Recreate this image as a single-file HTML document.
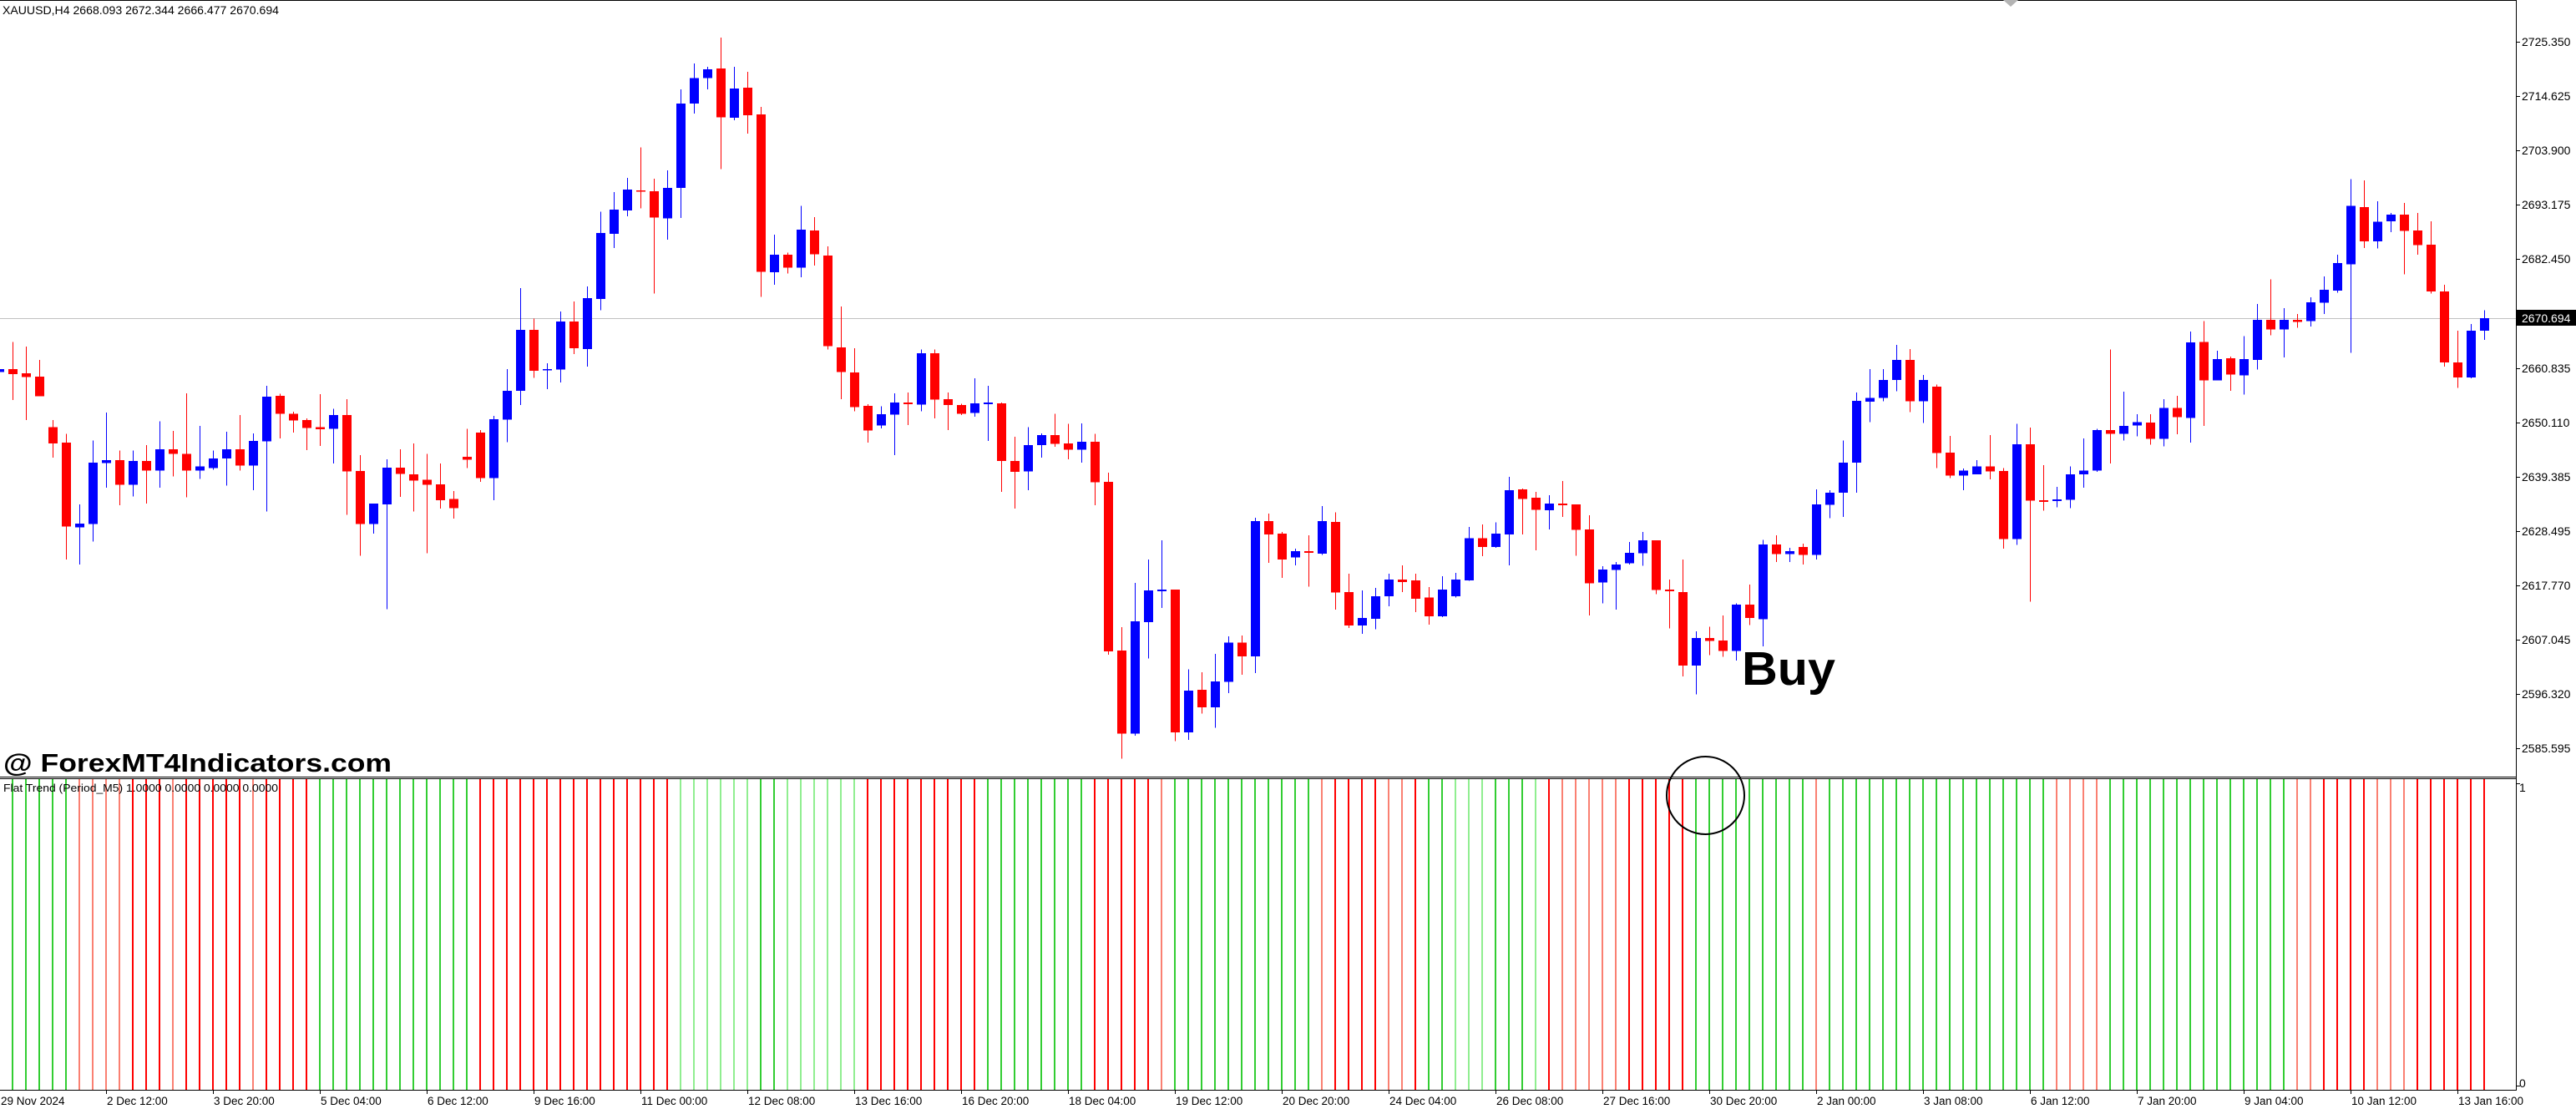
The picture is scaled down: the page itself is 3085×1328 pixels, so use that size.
<!DOCTYPE html>
<html><head><meta charset="utf-8"><style>html,body{margin:0;padding:0;background:#fff;width:3085px;height:1328px;overflow:hidden}svg{display:block}</style></head><body>
<svg width="3085" height="1328" viewBox="0 0 3085 1328" xmlns="http://www.w3.org/2000/svg" font-family="'Liberation Sans', sans-serif">
<rect x="0" y="0" width="3085" height="1328" fill="#fff"/>
<!-- bid line -->
<rect x="0" y="381" width="3014" height="1" fill="#c0c0c0"/>
<!-- candles (y in scaled units) -->
<g transform="scale(1,0.59312)" shape-rendering="crispEdges">
<path fill="none" stroke="#0000ff" stroke-width="1" d="M-0.5 740V755M95.5 1018V1140M111.5 889V1093M127.5 833V985M159.5 910V1002M191.5 851V985M239.5 860V967M255.5 910V948M271.5 872V980M303.5 875V990M319.5 779V1033M399.5 825V936M447.5 1017V1077M463.5 927V1230M591.5 840V1010M607.5 745V893M623.5 582V818M655.5 733V786M671.5 629V772M703.5 578V740M719.5 427V626M735.5 388V501M751.5 359V437M799.5 344V484M815.5 180V440M831.5 128V229M847.5 135V180M879.5 135V243M927.5 474V575M959.5 416V560M1055.5 820V865M1071.5 794V919M1103.5 706V830M1167.5 764V841M1183.5 779V890M1231.5 862V990M1247.5 875V924M1295.5 855V934M1359.5 1177V1485M1375.5 1130V1329M1391.5 1091V1227M1423.5 1351V1494M1455.5 1320V1469M1471.5 1285V1399M1503.5 1045V1359M1551.5 1108V1141M1583.5 1022V1120M1631.5 1192V1280M1647.5 1187V1270M1663.5 1158V1224M1727.5 1163V1246M1743.5 1157V1206M1759.5 1064V1173M1791.5 1055V1106M1807.5 963V1141M1855.5 1000V1069M1919.5 1143V1218M1935.5 1135V1231M1951.5 1094V1140M1967.5 1074V1142M2031.5 1275V1402M2079.5 1218V1334M2111.5 1090V1305M2143.5 1106V1135M2175.5 988V1130M2191.5 990V1046M2207.5 889V1044M2223.5 792V995M2239.5 745V852M2255.5 745V810M2271.5 696V790M2303.5 757V854M2351.5 946V990M2367.5 929V958M2415.5 856V1100M2463.5 983V1024M2479.5 942V1026M2495.5 885V985M2511.5 866V953M2543.5 791V889M2559.5 836V881M2591.5 806V901M2623.5 669V894M2655.5 708V768M2687.5 679V797M2703.5 614V746M2735.5 622V722M2767.5 600V659M2783.5 558V634M2799.5 514V591M2815.5 362V712M2847.5 406V502M2863.5 430V469M2959.5 654V764M2975.5 626V686"/>
<path fill="none" stroke="#ff0000" stroke-width="1" d="M15.5 690V808M31.5 700V848M47.5 727V800M63.5 848V924M79.5 876V1130M143.5 910V1020M175.5 899V1017M207.5 870V962M223.5 794V1004M287.5 838V950M335.5 795V885M351.5 831V873M367.5 845V909M383.5 796V900M415.5 806V1039M431.5 919V1122M479.5 907V1003M495.5 895V1033M511.5 916V1117M527.5 936V1027M543.5 991V1047M559.5 866V945M575.5 868V973M639.5 643V763M687.5 609V715M767.5 298V421M783.5 361V593M863.5 76V341M895.5 145V270M911.5 216V599M943.5 510V552M975.5 438V536M991.5 497V706M1007.5 619V806M1023.5 703V830M1039.5 816V894M1087.5 792V858M1119.5 706V845M1135.5 792V868M1151.5 815V838M1199.5 813V993M1215.5 882V1027M1263.5 835V902M1279.5 856V927M1311.5 876V1020M1327.5 954V1322M1343.5 1266V1532M1407.5 1190V1496M1439.5 1357V1441M1487.5 1283V1362M1519.5 1037V1136M1535.5 1074V1167M1567.5 1081V1184M1599.5 1034V1231M1615.5 1158V1268M1679.5 1141V1195M1695.5 1158V1236M1711.5 1185V1261M1775.5 1059V1123M1823.5 986V1079M1839.5 993V1111M1871.5 971V1044M1887.5 1018V1122M1903.5 1040V1243M1983.5 1091V1200M1999.5 1170V1269M2015.5 1130V1366M2047.5 1265V1323M2063.5 1243V1326M2095.5 1180V1262M2127.5 1081V1135M2159.5 1098V1140M2287.5 705V832M2319.5 776V945M2335.5 880V965M2383.5 878V968M2399.5 945V1108M2431.5 863V1215M2447.5 939V1031M2527.5 706V936M2575.5 836V898M2607.5 799V877M2639.5 648V860M2671.5 720V789M2719.5 564V677M2751.5 634V662M2831.5 364V501M2879.5 410V554M2895.5 430V514M2911.5 447V593M2927.5 575V740M2943.5 668V783"/>
<path fill="#0000ff" d="M-6 745h11V751h-11zM90 1057h11V1065h-11zM106 934h11V1058h-11zM122 929h11V935h-11zM154 931h11V979h-11zM186 907h11V950h-11zM234 942h11V950h-11zM250 926h11V945h-11zM266 907h11V926h-11zM298 890h11V940h-11zM314 801h11V891h-11zM394 838h11V866h-11zM442 1017h11V1058h-11zM458 944h11V1018h-11zM586 846h11V965h-11zM602 789h11V847h-11zM618 666h11V789h-11zM650 745h11V748h-11zM666 649h11V746h-11zM698 602h11V705h-11zM714 470h11V604h-11zM730 423h11V472h-11zM746 383h11V425h-11zM794 379h11V441h-11zM810 209h11V379h-11zM826 158h11V209h-11zM842 140h11V158h-11zM874 179h11V238h-11zM922 514h11V550h-11zM954 464h11V540h-11zM1050 836h11V859h-11zM1066 813h11V837h-11zM1098 713h11V817h-11zM1162 814h11V834h-11zM1178 813h11V816h-11zM1226 899h11V952h-11zM1242 878h11V899h-11zM1290 892h11V908h-11zM1354 1254h11V1481h-11zM1370 1192h11V1256h-11zM1386 1190h11V1194h-11zM1418 1394h11V1479h-11zM1450 1376h11V1428h-11zM1466 1297h11V1377h-11zM1498 1052h11V1325h-11zM1546 1113h11V1125h-11zM1578 1052h11V1118h-11zM1626 1248h11V1263h-11zM1642 1204h11V1249h-11zM1658 1170h11V1204h-11zM1722 1190h11V1244h-11zM1738 1170h11V1204h-11zM1754 1087h11V1172h-11zM1786 1077h11V1104h-11zM1802 990h11V1079h-11zM1850 1017h11V1030h-11zM1914 1150h11V1176h-11zM1930 1140h11V1151h-11zM1946 1116h11V1137h-11zM1962 1091h11V1117h-11zM2026 1288h11V1344h-11zM2074 1221h11V1314h-11zM2106 1099h11V1250h-11zM2138 1113h11V1119h-11zM2170 1018h11V1120h-11zM2186 995h11V1019h-11zM2202 934h11V995h-11zM2218 809h11V934h-11zM2234 803h11V811h-11zM2250 767h11V803h-11zM2266 727h11V767h-11zM2298 767h11V810h-11zM2346 950h11V960h-11zM2362 942h11V958h-11zM2410 897h11V1088h-11zM2458 1008h11V1012h-11zM2474 958h11V1009h-11zM2490 950h11V958h-11zM2506 868h11V950h-11zM2538 860h11V876h-11zM2554 852h11V859h-11zM2586 824h11V886h-11zM2618 691h11V844h-11zM2650 725h11V768h-11zM2682 725h11V758h-11zM2698 646h11V727h-11zM2730 646h11V665h-11zM2762 610h11V648h-11zM2778 585h11V611h-11zM2794 531h11V587h-11zM2810 416h11V534h-11zM2842 448h11V487h-11zM2858 433h11V447h-11zM2954 668h11V762h-11zM2970 642h11V668h-11z"/>
<path fill="#ff0000" d="M10 745h11V755h-11zM26 754h11V761h-11zM42 760h11V800h-11zM58 862h11V895h-11zM74 894h11V1063h-11zM138 929h11V979h-11zM170 931h11V950h-11zM202 907h11V916h-11zM218 916h11V950h-11zM282 907h11V940h-11zM330 799h11V835h-11zM346 835h11V849h-11zM362 848h11V864h-11zM378 862h11V867h-11zM410 838h11V952h-11zM426 951h11V1058h-11zM474 944h11V957h-11zM490 958h11V970h-11zM506 969h11V979h-11zM522 978h11V1010h-11zM538 1007h11V1026h-11zM554 922h11V928h-11zM570 873h11V965h-11zM634 666h11V749h-11zM682 649h11V703h-11zM762 384h11V387h-11zM778 386h11V439h-11zM858 138h11V237h-11zM890 177h11V233h-11zM906 231h11V549h-11zM938 514h11V540h-11zM970 465h11V513h-11zM986 516h11V699h-11zM1002 701h11V751h-11zM1018 752h11V822h-11zM1034 819h11V869h-11zM1082 813h11V816h-11zM1114 713h11V807h-11zM1130 806h11V818h-11zM1146 818h11V835h-11zM1194 814h11V931h-11zM1210 931h11V953h-11zM1258 878h11V896h-11zM1274 895h11V908h-11zM1306 892h11V974h-11zM1322 973h11V1315h-11zM1338 1313h11V1481h-11zM1402 1190h11V1479h-11zM1434 1393h11V1428h-11zM1482 1297h11V1325h-11zM1514 1052h11V1079h-11zM1530 1077h11V1130h-11zM1562 1113h11V1116h-11zM1594 1054h11V1196h-11zM1610 1195h11V1263h-11zM1674 1170h11V1175h-11zM1690 1172h11V1209h-11zM1706 1206h11V1244h-11zM1770 1087h11V1104h-11zM1818 988h11V1007h-11zM1834 1005h11V1029h-11zM1866 1017h11V1020h-11zM1882 1018h11V1070h-11zM1898 1069h11V1178h-11zM1978 1091h11V1191h-11zM1994 1190h11V1194h-11zM2010 1195h11V1344h-11zM2042 1288h11V1294h-11zM2058 1293h11V1314h-11zM2090 1221h11V1248h-11zM2122 1099h11V1119h-11zM2154 1104h11V1120h-11zM2282 727h11V810h-11zM2314 781h11V915h-11zM2330 914h11V960h-11zM2378 942h11V952h-11zM2394 951h11V1088h-11zM2426 897h11V1011h-11zM2442 1010h11V1013h-11zM2522 868h11V876h-11zM2570 853h11V886h-11zM2602 824h11V842h-11zM2634 690h11V768h-11zM2666 723h11V756h-11zM2714 646h11V665h-11zM2746 646h11V650h-11zM2826 418h11V487h-11zM2874 433h11V466h-11zM2890 465h11V495h-11zM2906 494h11V588h-11zM2922 588h11V732h-11zM2938 732h11V762h-11z"/>
</g>
<!-- histogram -->
<g shape-rendering="crispEdges" stroke-width="2" fill="none">
<path stroke="#32cd32" d="M-1 933V1305M15 933V1305M31 933V1305M47 933V1305M63 933V1305M79 933V1305M383 933V1305M399 933V1305M415 933V1305M431 933V1305M447 933V1305M463 933V1305M479 933V1305M495 933V1305M511 933V1305M527 933V1305M543 933V1305M559 933V1305M911 933V1305M927 933V1305M1183 933V1305M1199 933V1305M1215 933V1305M1231 933V1305M1247 933V1305M1263 933V1305M1279 933V1305M1295 933V1305M1407 933V1305M1423 933V1305M1439 933V1305M1455 933V1305M1471 933V1305M1487 933V1305M1503 933V1305M1519 933V1305M1535 933V1305M1551 933V1305M1567 933V1305M1711 933V1305M1727 933V1305M1791 933V1305M1807 933V1305M1823 933V1305M2031 933V1305M2047 933V1305M2063 933V1305M2079 933V1305M2095 933V1305M2111 933V1305M2127 933V1305M2143 933V1305M2159 933V1305M2191 933V1305M2207 933V1305M2223 933V1305M2239 933V1305M2255 933V1305M2271 933V1305M2287 933V1305M2303 933V1305M2319 933V1305M2335 933V1305M2351 933V1305M2367 933V1305M2383 933V1305M2399 933V1305M2415 933V1305M2431 933V1305M2447 933V1305M2527 933V1305M2543 933V1305M2559 933V1305M2575 933V1305M2591 933V1305M2607 933V1305M2623 933V1305M2639 933V1305M2655 933V1305M2671 933V1305M2687 933V1305M2703 933V1305M2719 933V1305M2735 933V1305"/>
<path stroke="#90ee90" d="M815 933V1305M831 933V1305M847 933V1305M863 933V1305M879 933V1305M895 933V1305M943 933V1305M959 933V1305M975 933V1305M991 933V1305M1007 933V1305M1023 933V1305M1743 933V1305M1759 933V1305M1775 933V1305M1839 933V1305"/>
<path stroke="#ff0000" d="M159 933V1305M175 933V1305M191 933V1305M223 933V1305M239 933V1305M255 933V1305M271 933V1305M287 933V1305M319 933V1305M335 933V1305M351 933V1305M367 933V1305M575 933V1305M591 933V1305M607 933V1305M623 933V1305M639 933V1305M655 933V1305M671 933V1305M687 933V1305M703 933V1305M719 933V1305M735 933V1305M751 933V1305M767 933V1305M783 933V1305M799 933V1305M1039 933V1305M1055 933V1305M1071 933V1305M1087 933V1305M1103 933V1305M1119 933V1305M1135 933V1305M1151 933V1305M1167 933V1305M1311 933V1305M1327 933V1305M1343 933V1305M1359 933V1305M1375 933V1305M1599 933V1305M1615 933V1305M1631 933V1305M1647 933V1305M1695 933V1305M1855 933V1305M1951 933V1305M1967 933V1305M1983 933V1305M1999 933V1305M2015 933V1305M2783 933V1305M2799 933V1305M2815 933V1305M2831 933V1305M2895 933V1305M2911 933V1305M2927 933V1305M2943 933V1305M2959 933V1305M2975 933V1305"/>
<path stroke="#fa8072" d="M95 933V1305M111 933V1305M127 933V1305M143 933V1305M207 933V1305M303 933V1305M1391 933V1305M1583 933V1305M1663 933V1305M1679 933V1305M1871 933V1305M1887 933V1305M1903 933V1305M1919 933V1305M1935 933V1305M2175 933V1305M2463 933V1305M2479 933V1305M2495 933V1305M2511 933V1305M2751 933V1305M2767 933V1305M2847 933V1305M2863 933V1305M2879 933V1305"/>
</g>
<!-- frame lines -->
<g shape-rendering="crispEdges" fill="#000">
<rect x="0" y="0" width="3014" height="1"/>
<rect x="0" y="930" width="3014" height="1"/>
<rect x="0" y="932" width="3014" height="1"/>
<rect x="0" y="1305" width="3014" height="1"/>
<rect x="3013" y="0" width="1" height="1306"/>
</g>
<!-- time ticks -->
<path shape-rendering="crispEdges" stroke="#000" stroke-width="1" d="M127.5 1305V1310M255.5 1305V1310M383.5 1305V1310M511.5 1305V1310M639.5 1305V1310M767.5 1305V1310M895.5 1305V1310M1023.5 1305V1310M1151.5 1305V1310M1279.5 1305V1310M1407.5 1305V1310M1535.5 1305V1310M1663.5 1305V1310M1791.5 1305V1310M1919.5 1305V1310M2047.5 1305V1310M2175.5 1305V1310M2303.5 1305V1310M2431.5 1305V1310M2559.5 1305V1310M2687.5 1305V1310M2815.5 1305V1310M2943.5 1305V1310"/>
<!-- price ticks -->
<path shape-rendering="crispEdges" stroke="#000" stroke-width="1" d="M3014 50.5H3018M3014 115.5H3018M3014 180.5H3018M3014 245.5H3018M3014 310.5H3018M3014 441.5H3018M3014 506.5H3018M3014 571.5H3018M3014 636.5H3018M3014 701.5H3018M3014 766.5H3018M3014 831.5H3018M3014 896.5H3018M3014 938.5H3018M3014 1300.5H3018"/>
<!-- time labels -->
<g font-size="13.5" fill="#000">
<text x="1" y="1323">29 Nov 2024</text>
<text x="128" y="1323">2 Dec 12:00</text>
<text x="256" y="1323">3 Dec 20:00</text>
<text x="384" y="1323">5 Dec 04:00</text>
<text x="512" y="1323">6 Dec 12:00</text>
<text x="640" y="1323">9 Dec 16:00</text>
<text x="768" y="1323">11 Dec 00:00</text>
<text x="896" y="1323">12 Dec 08:00</text>
<text x="1024" y="1323">13 Dec 16:00</text>
<text x="1152" y="1323">16 Dec 20:00</text>
<text x="1280" y="1323">18 Dec 04:00</text>
<text x="1408" y="1323">19 Dec 12:00</text>
<text x="1536" y="1323">20 Dec 20:00</text>
<text x="1664" y="1323">24 Dec 04:00</text>
<text x="1792" y="1323">26 Dec 08:00</text>
<text x="1920" y="1323">27 Dec 16:00</text>
<text x="2048" y="1323">30 Dec 20:00</text>
<text x="2176" y="1323">2 Jan 00:00</text>
<text x="2304" y="1323">3 Jan 08:00</text>
<text x="2432" y="1323">6 Jan 12:00</text>
<text x="2560" y="1323">7 Jan 20:00</text>
<text x="2688" y="1323">9 Jan 04:00</text>
<text x="2816" y="1323">10 Jan 12:00</text>
<text x="2944" y="1323">13 Jan 16:00</text>
</g>
<!-- price labels -->
<g font-size="14" fill="#000">
<text x="3020" y="55">2725.350</text>
<text x="3020" y="120">2714.625</text>
<text x="3020" y="185">2703.900</text>
<text x="3020" y="250">2693.175</text>
<text x="3020" y="315">2682.450</text>
<text x="3020" y="381">2671.560</text>
<text x="3020" y="446">2660.835</text>
<text x="3020" y="511">2650.110</text>
<text x="3020" y="576">2639.385</text>
<text x="3020" y="641">2628.495</text>
<text x="3020" y="706">2617.770</text>
<text x="3020" y="771">2607.045</text>
<text x="3020" y="836">2596.320</text>
<text x="3020" y="901">2585.595</text>
<text x="3017" y="948">1</text>
<text x="3017" y="1302">0</text>
</g>
<rect x="3014" y="371" width="71" height="19" fill="#000"/>
<text x="3020" y="386" font-size="14" fill="#fff">2670.694</text>
<!-- shift marker -->
<polygon points="2399,0 2417,0 2408,8" fill="#b4b4b4"/>
<!-- header texts -->
<text x="3" y="17" font-size="13.5" fill="#000" textLength="331" lengthAdjust="spacingAndGlyphs">XAUUSD,H4  2668.093 2672.344 2666.477 2670.694</text>
<text x="4" y="948" font-size="13" fill="#000" textLength="329" lengthAdjust="spacingAndGlyphs">Flat Trend (Period_M5) 1.0000 0.0000 0.0000 0.0000</text>
<text x="4" y="924" font-size="31" font-weight="bold" fill="#000" textLength="465" lengthAdjust="spacingAndGlyphs">@ ForexMT4Indicators.com</text>
<text x="2086" y="820" font-size="57" font-weight="bold" fill="#000" textLength="112" lengthAdjust="spacingAndGlyphs">Buy</text>
<circle cx="2042.5" cy="952.5" r="46.5" fill="none" stroke="#000" stroke-width="2"/>
</svg>
</body></html>
